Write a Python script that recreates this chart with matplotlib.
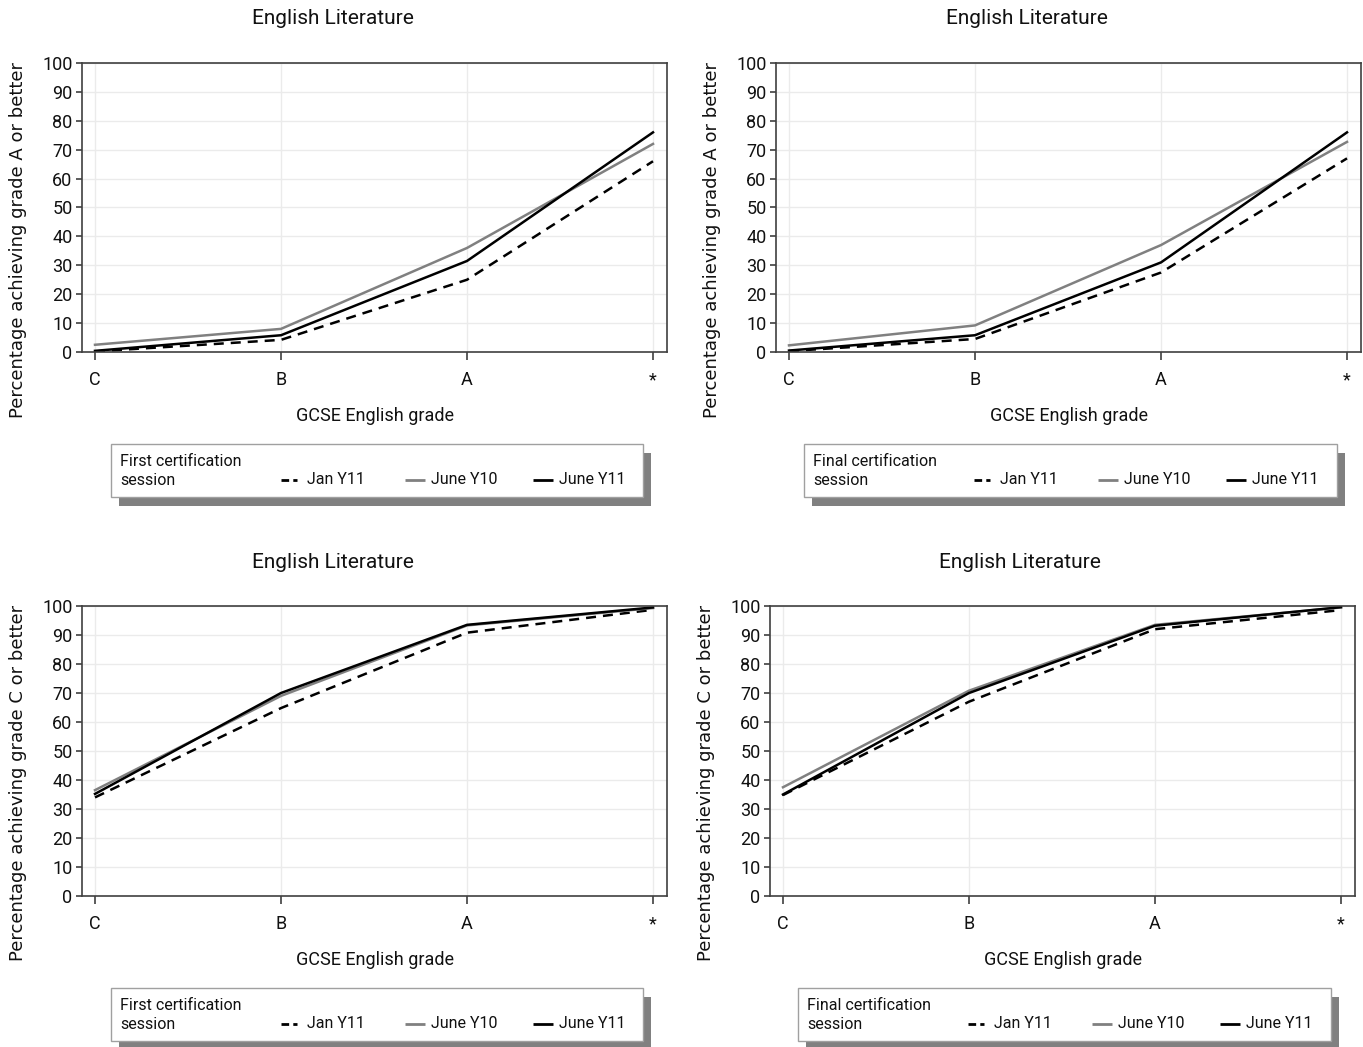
import matplotlib
matplotlib.use("Agg")
import matplotlib.pyplot as plt
from matplotlib.lines import Line2D
from matplotlib.patches import Rectangle
from matplotlib import font_manager

names = {f.name for f in font_manager.fontManager.ttflist}
MAIN = "Roboto" if "Roboto" in names else "DejaVu Sans"
plt.rcParams['font.family'] = [MAIN, 'DejaVu Sans']
plt.rcParams['font.weight'] = 'normal'

# ---------------- data ----------------
grades = ["C", "B", "A", "*"]
series_labels = ["Jan Y11", "June Y10", "June Y11"]

# Percentage achieving grade A or better - first certification session
a_first_jan_y11 = [0.2, 4.2, 25.0, 66.0]
a_first_june_y10 = [2.5, 8.0, 36.0, 72.0]
a_first_june_y11 = [0.4, 5.8, 31.5, 76.0]

# Percentage achieving grade A or better - final certification session
a_final_jan_y11 = [0.3, 4.5, 27.5, 67.0]
a_final_june_y10 = [2.3, 9.2, 37.0, 72.7]
a_final_june_y11 = [0.5, 5.8, 31.0, 76.0]

# Percentage achieving grade C or better - first certification session
c_first_jan_y11 = [34.0, 64.8, 90.8, 98.7]
c_first_june_y10 = [36.5, 69.0, 93.3, 99.3]
c_first_june_y11 = [35.2, 70.0, 93.5, 99.5]

# Percentage achieving grade C or better - final certification session
c_final_jan_y11 = [34.8, 67.0, 92.0, 98.6]
c_final_june_y10 = [37.5, 70.8, 93.5, 99.5]
c_final_june_y11 = [35.0, 70.0, 93.2, 99.6]

titles = ["English Literature"] * 4
ylabels = ["Percentage achieving grade A or better",
           "Percentage achieving grade A or better",
           "Percentage achieving grade C or better",
           "Percentage achieving grade C or better"]
xlabel = "GCSE English grade"
legend_titles = ["First certification\nsession", "Final certification\nsession",
                 "First certification\nsession", "Final certification\nsession"]
yticks = list(range(0, 101, 10))

panels = [
    (a_first_jan_y11, a_first_june_y10, a_first_june_y11),
    (a_final_jan_y11, a_final_june_y10, a_final_june_y11),
    (c_first_jan_y11, c_first_june_y10, c_first_june_y11),
    (c_final_jan_y11, c_final_june_y10, c_final_june_y11),
]

# ---------------- layout (pixels) ----------------
W, H = 1363, 1047
fig = plt.figure(figsize=(W / 100, H / 100), dpi=100)

def fx(x):
    return x / W

def fy(y):
    return 1 - y / H

layout = [
    dict(frame=(82, 63, 667, 352), title=(333, 19), ylab=(18, 240), xlab=416, leg=(111, 444, 643, 497)),
    dict(frame=(776, 63, 1361, 352), title=(1027, 19), ylab=(712, 240), xlab=416, leg=(804, 444, 1337, 497)),
    dict(frame=(82, 606, 667, 896), title=(333, 562), ylab=(18, 783), xlab=960, leg=(111, 988, 643, 1041)),
    dict(frame=(770, 606, 1355, 896), title=(1020, 562), ylab=(706, 783), xlab=960, leg=(798, 988, 1331, 1041)),
]

styles = [
    dict(color="black", lw=1.8, dashes=(4.0, 2.8)),
    dict(color="#808080", lw=1.8, dashes=None),
    dict(color="black", lw=1.8, dashes=None),
]

x = list(range(len(grades)))
frame_color = "#404040"
TXT = "#111111"

for i, (data, lay) in enumerate(zip(panels, layout)):
    l, t, r, b = lay["frame"]
    ax = fig.add_axes([fx(l), fy(b), fx(r - l), (b - t) / H])
    for vals, st in zip(data, styles):
        kw = dict(color=st["color"], lw=st["lw"], solid_joinstyle="miter")
        if st["dashes"]:
            ax.plot(x, vals, dashes=st["dashes"], **kw)
        else:
            ax.plot(x, vals, **kw)
    ax.set_xlim(-13 / 186, (r - l - 13) / 186)
    ax.set_ylim(0, 100)
    ax.set_xticks(x)
    ax.set_xticklabels(grades, fontsize=13)
    ax.set_yticks(yticks)
    ax.set_yticklabels([str(v) for v in yticks], fontsize=13)
    ax.grid(True, color="#ebebeb", lw=1.0)
    ax.set_axisbelow(True)
    for sp in ax.spines.values():
        sp.set_color(frame_color)
        sp.set_linewidth(1.2)
    ax.tick_params(axis="x", length=6, width=1.2, color=frame_color, pad=8, labelcolor=TXT)
    ax.tick_params(axis="y", length=4.3, width=1.2, color=frame_color, pad=2.5, labelcolor=TXT)

    fig.text(fx(lay["title"][0]), fy(lay["title"][1]), titles[i], ha="center", va="center",
             fontsize=15, color=TXT)
    fig.text(fx((l + r) / 2), fy(lay["xlab"]), xlabel, ha="center", va="center",
             fontsize=13, color=TXT)
    fig.text(fx(lay["ylab"][0]), fy(lay["ylab"][1]), ylabels[i], ha="center", va="center",
             rotation=90, fontsize=13, family="DejaVu Sans", color=TXT)

    # legend box with shadow
    ll, lt, lr, lb = lay["leg"]
    fig.add_artist(Rectangle((fx(ll + 8), fy(lb + 9)), fx(lr - ll), (lb - lt) / H,
                             transform=fig.transFigure, facecolor="#808080",
                             edgecolor="none", zorder=5))
    fig.add_artist(Rectangle((fx(ll), fy(lb)), fx(lr - ll), (lb - lt) / H,
                             transform=fig.transFigure, facecolor="white",
                             edgecolor="#a0a0a0", lw=1.0, zorder=6))
    fig.text(fx(ll + 9), fy(lt + 27), legend_titles[i], ha="left", va="center",
             fontsize=11.5, linespacing=1.3, zorder=7, color=TXT)
    row_y = fy(lt + 36)
    hx = [ll + 170, ll + 294, ll + 422]
    for k, (lab, st) in enumerate(zip(series_labels, styles)):
        ln_len = 16 if st["dashes"] else 20
        ln = Line2D([fx(hx[k]), fx(hx[k] + ln_len)], [row_y, row_y], transform=fig.transFigure,
                    color=st["color"], lw=2.0, zorder=7, solid_capstyle="butt",
                    dash_capstyle="butt")
        if st["dashes"]:
            ln.set_dashes((2.75, 1.5))
        fig.add_artist(ln)
        fig.text(fx(hx[k] + 26), row_y, lab, ha="left", va="center", fontsize=11.5, zorder=7,
                 color=TXT)

fig.savefig("out.png", dpi=100)
